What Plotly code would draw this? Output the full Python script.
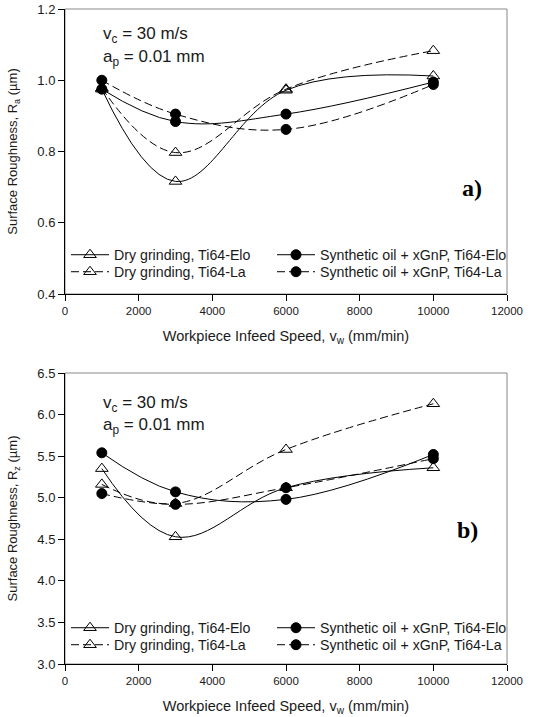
import plotly.graph_objects as go

W, H = 539, 717

# ---------------- data ----------------
speed = [1000, 3000, 6000, 10000]

ra_dry_elo = [0.975, 0.716, 0.972, 1.012]
ra_dry_la = [0.978, 0.797, 0.975, 1.083]
ra_syn_elo = [0.975, 0.884, 0.905, 0.995]
ra_syn_la = [1.000, 0.905, 0.862, 0.988]

rz_dry_elo = [5.35, 4.53, 5.12, 5.36]
rz_dry_la = [5.16, 4.93, 5.58, 6.13]
rz_syn_elo = [5.54, 5.07, 4.98, 5.52]
rz_syn_la = [5.05, 4.92, 5.12, 5.47]

series_names = ["Dry grinding, Ti64-Elo", "Dry grinding, Ti64-La",
                "Synthetic oil + xGnP, Ti64-Elo", "Synthetic oil + xGnP, Ti64-La"]

x_ticks = [0, 2000, 4000, 6000, 8000, 10000, 12000]
x_tick_text = ["0", "2000", "4000", "6000", "8000", "10000", "12000"]
ra_ticks = [0.4, 0.6, 0.8, 1.0, 1.2]
rz_ticks = [3.0, 3.5, 4.0, 4.5, 5.0, 5.5, 6.0, 6.5]


def px(x):
    return x / W


def py(y):
    return 1 - y / H


FONT = "Arial, Liberation Sans, sans-serif"
TXT = "#1a1a1a"
DASH = "8px,4px"

fig = go.Figure()

styles = [
    dict(symbol="triangle-up-open", dash="solid", size=11),
    dict(symbol="triangle-up-open", dash=DASH, size=11),
    dict(symbol="circle", dash="solid", size=10),
    dict(symbol="circle", dash=DASH, size=10),
]

# legend slot per series: (column x px, row index)
leg_col_x = [66, 66, 272, 272]
leg_row = [0, 1, 0, 1]

panels = [
    dict(xa="x", ya="y", data=[ra_dry_elo, ra_dry_la, ra_syn_elo, ra_syn_la], rows=[255, 272]),
    dict(xa="x2", ya="y2", data=[rz_dry_elo, rz_dry_la, rz_syn_elo, rz_syn_la], rows=[628, 645]),
]

leg_common = dict(orientation="h", bgcolor="rgba(0,0,0,0)", borderwidth=0,
                  font=dict(family=FONT, size=14.2, color=TXT),
                  xanchor="left", yanchor="middle", itemwidth=38)

legend_layout = {}
n = 0
for p in panels:
    for i in range(4):
        st = styles[i]
        n += 1
        lname = "legend" if n == 1 else f"legend{n}"
        legend_layout[lname] = dict(x=px(leg_col_x[i]), y=py(p["rows"][leg_row[i]]), **leg_common)
        fig.add_trace(go.Scatter(
            x=speed, y=p["data"][i], xaxis=p["xa"], yaxis=p["ya"],
            mode="lines+markers", name=series_names[i], legend=lname,
            line=dict(color="black", width=1, dash=st["dash"], shape="spline", smoothing=1.1),
            marker=dict(symbol=st["symbol"], size=st["size"],
                        color="black", line=dict(color="black", width=1)),
        ))

top_dom = [py(294), py(9)]
bot_dom = [py(664), py(373)]
x_dom = [px(65), px(507)]

axis_common = dict(
    showline=True, linecolor="black", linewidth=1, mirror=False,
    ticks="outside", ticklen=6, tickcolor="black", tickwidth=1,
    showgrid=False, zeroline=False, automargin=False,
)
xfont = dict(family=FONT, size=11.5, color=TXT)
yfont = dict(family=FONT, size=13, color=TXT)

xt = dict(text="Workpiece Infeed Speed, v<sub>w</sub> (mm/min)",
          font=dict(family=FONT, size=14.5, color=TXT), standoff=15)

fig.update_layout(
    width=W, height=H, margin=dict(l=0, r=0, t=0, b=0, autoexpand=False),
    plot_bgcolor="white", paper_bgcolor="white",
    showlegend=True,
    xaxis=dict(domain=x_dom, anchor="y", range=[0, 12000], tickvals=x_ticks,
               ticktext=x_tick_text, tickfont=xfont, title=xt, **axis_common),
    yaxis=dict(domain=top_dom, anchor="x", range=[0.4, 1.2], tickvals=ra_ticks,
               tickformat=".1f", tickfont=yfont,
               title=dict(text="Surface Roughness, R<sub>a</sub> (µm)",
                          font=dict(family=FONT, size=13, color=TXT), standoff=16),
               **axis_common),
    xaxis2=dict(domain=x_dom, anchor="y2", range=[0, 12000], tickvals=x_ticks,
                ticktext=x_tick_text, tickfont=xfont, title=xt, **axis_common),
    yaxis2=dict(domain=bot_dom, anchor="x2", range=[3.0, 6.5], tickvals=rz_ticks,
                tickformat=".1f", tickfont=yfont,
                title=dict(text="Surface Roughness, R<sub>z</sub> (µm)",
                           font=dict(family=FONT, size=13, color=TXT), standoff=16),
                **axis_common),
    **legend_layout,
)

# frame: gray top/right
for xr, yr in [("x domain", "y domain"), ("x2 domain", "y2 domain")]:
    fig.add_shape(type="rect", xref=xr, yref=yr, x0=0, x1=1, y0=0, y1=1,
                  line=dict(color="#888888", width=1), layer="below")

ann = []
for (yv, ya) in [(py(35), py(58)), (py(404), py(426))]:
    ann.append(dict(x=px(101), y=yv, xref="paper", yref="paper", xanchor="left", yanchor="middle",
                    text="v<sub>c</sub> = 30 m/s", showarrow=False,
                    font=dict(family=FONT, size=17, color=TXT)))
    ann.append(dict(x=px(101), y=ya, xref="paper", yref="paper", xanchor="left", yanchor="middle",
                    text="a<sub>p</sub> = 0.01 mm", showarrow=False,
                    font=dict(family=FONT, size=17, color=TXT)))
ann.append(dict(x=px(472), y=py(188), xref="paper", yref="paper", text="<b>a)</b>",
                xanchor="center", yanchor="middle",
                showarrow=False, font=dict(family="Liberation Serif, Times New Roman, serif", size=24, color="black")))
ann.append(dict(x=px(467), y=py(530), xref="paper", yref="paper", text="<b>b)</b>",
                xanchor="center", yanchor="middle",
                showarrow=False, font=dict(family="Liberation Serif, Times New Roman, serif", size=24, color="black")))
fig.update_layout(annotations=ann)

fig.write_html("out.html")
